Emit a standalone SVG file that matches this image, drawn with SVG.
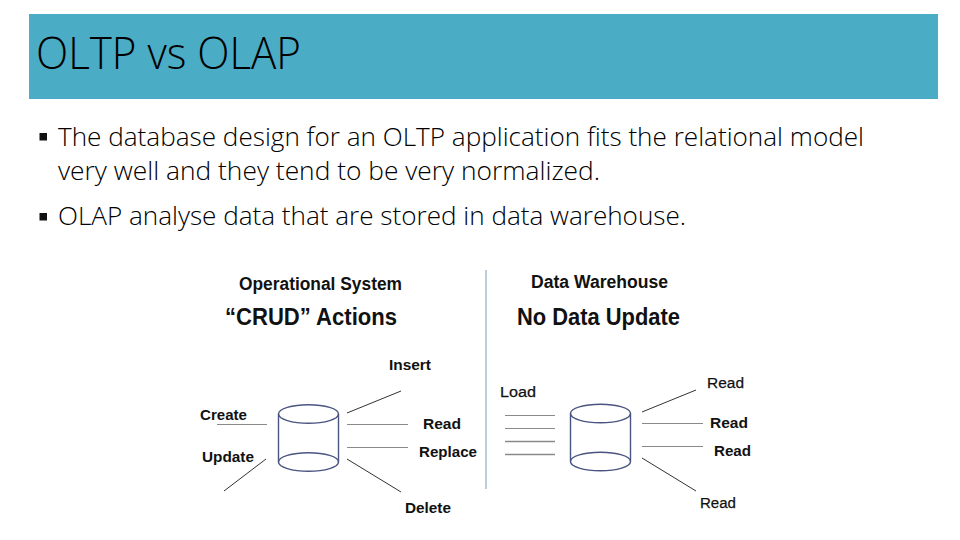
<svg xmlns="http://www.w3.org/2000/svg" width="960" height="540" viewBox="0 0 960 540">
<style>
.t{font-family:"Open Sans","Noto Sans",sans-serif;font-weight:300;fill:#000}
.b{font-size:25.5px}
.l{font-family:"Liberation Sans",Arial,sans-serif;font-weight:700;fill:#111;font-size:15.5px}
.r{font-weight:400;stroke:#111;stroke-width:.25}
.h{font-size:17.5px}
.k{font-size:23.5px}
.c{stroke:#333;stroke-width:1;fill:none}
.g{stroke:#8a8a8a;stroke-width:1;fill:none}
.w{stroke:#8a8a8a;stroke-width:1.6;fill:none}
.d{stroke:#4a5480;stroke-width:1.4;fill:none}
</style>
<defs>
<g id="cyl">
<ellipse class="d" cx="30" cy="9.5" rx="30" ry="9.3"/>
<ellipse class="d" cx="30" cy="57.5" rx="30" ry="9.3"/>
<path class="d" d="M0 9.5V57.5M60 9.5V57.5"/>
</g>
</defs>
<rect width="960" height="540" fill="#fff"/>
<rect x="29" y="14" width="909" height="85" fill="#4bacc6"/>
<text class="t" x="36" y="69" font-size="44" textLength="265" lengthAdjust="spacingAndGlyphs">OLTP vs OLAP</text>
<rect x="39.500" y="133" width="7.500" height="7.500" fill="#111"/>
<text class="t b" x="58" y="146" textLength="806" lengthAdjust="spacingAndGlyphs">The database design for an OLTP application fits the relational model</text>
<text class="t b" x="58" y="180" textLength="542" lengthAdjust="spacingAndGlyphs">very well and they tend to be very normalized.</text>
<rect x="39.500" y="213" width="7.500" height="7.500" fill="#111"/>
<text class="t b" x="58" y="225" textLength="628" lengthAdjust="spacingAndGlyphs">OLAP analyse data that are stored in data warehouse.</text>
<path d="M486 270V489" stroke="#bccfdf" stroke-width="2" fill="none"/>
<g id="connectors">
<path class="g" d="M217 424.5H267"/>
<path class="c" d="M266 459L224 491"/>
<path class="c" d="M347 413L401 391"/>
<path class="g" d="M347 424.500H408M347 447.500H408"/>
<path class="c" d="M347 459L401 492"/>
<path class="g" d="M505 415.500H555M505 428.500H555"/>
<path class="w" d="M505 441.500H555M505 454.500H555"/>
<path class="c" d="M642 412L696 390"/>
<path class="g" d="M642 423.500H703M642 446.500H703"/>
<path class="c" d="M642 458L696 491"/>
</g>
<g id="operational-header">
<text class="l h" x="239" y="290" textLength="163" lengthAdjust="spacingAndGlyphs">Operational System</text>
<text class="l k" x="225" y="325" textLength="172" lengthAdjust="spacingAndGlyphs">“CRUD” Actions</text>
</g>
<g id="warehouse-header">
<text class="l h" x="531" y="288" textLength="137" lengthAdjust="spacingAndGlyphs">Data Warehouse</text>
<text class="l k" x="517" y="325" textLength="163" lengthAdjust="spacingAndGlyphs">No Data Update</text>
</g>
<g id="operational-db"><use href="#cyl" x="278.500" y="404.500"/></g>
<g id="warehouse-db"><use href="#cyl" x="570.500" y="404"/></g>
<g id="label-insert"><text class="l" x="389" y="370" textLength="42" lengthAdjust="spacingAndGlyphs">Insert</text></g>
<g id="label-create"><text class="l" x="200" y="420" textLength="47" lengthAdjust="spacingAndGlyphs">Create</text></g>
<g id="label-update"><text class="l" x="202" y="462" textLength="52" lengthAdjust="spacingAndGlyphs">Update</text></g>
<g id="label-read"><text class="l" x="423" y="429" textLength="38" lengthAdjust="spacingAndGlyphs">Read</text></g>
<g id="label-replace"><text class="l" x="419" y="457" textLength="58" lengthAdjust="spacingAndGlyphs">Replace</text></g>
<g id="label-delete"><text class="l" x="405" y="513" textLength="46" lengthAdjust="spacingAndGlyphs">Delete</text></g>
<g id="label-load"><text class="l r" x="500" y="397" textLength="36" lengthAdjust="spacingAndGlyphs">Load</text></g>
<g id="label-read-1"><text class="l r" x="707" y="388" textLength="37" lengthAdjust="spacingAndGlyphs">Read</text></g>
<g id="label-read-2"><text class="l" x="710" y="428" textLength="38" lengthAdjust="spacingAndGlyphs">Read</text></g>
<g id="label-read-3"><text class="l" x="714" y="456" textLength="37" lengthAdjust="spacingAndGlyphs">Read</text></g>
<g id="label-read-4"><text class="l r" x="700" y="508" textLength="36" lengthAdjust="spacingAndGlyphs">Read</text></g>
</svg>
